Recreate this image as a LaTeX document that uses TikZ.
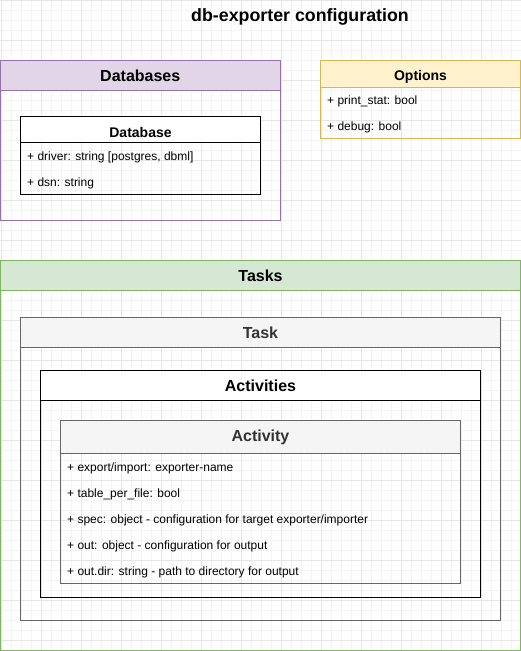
\documentclass[tikz,border=0pt]{standalone}
\usepackage{fontspec}
\setmainfont{Liberation Sans}
\definecolor{mypurple}{HTML}{E1D5E7}
\definecolor{mypurpleline}{HTML}{9673A6}
\definecolor{myyellow}{HTML}{FFF2CC}
\definecolor{myyellowline}{HTML}{D6B656}
\definecolor{mygreen}{HTML}{D5E8D4}
\definecolor{mygreenline}{HTML}{82B366}
\definecolor{mygray}{HTML}{F5F5F5}
\definecolor{mygrayline}{HTML}{666666}
\definecolor{mygraytext}{HTML}{333333}
\definecolor{gridminor}{HTML}{F4F4F4}
\definecolor{gridmajor}{HTML}{E6E6E6}
\tikzset{
    frame/.style={draw, line width=1pt, inner sep=0pt, outer sep=0pt, anchor=north west},
    headbar/.style={frame, font=\bfseries\fontsize{16}{19}\selectfont},
    smallhead/.style={frame, font=\bfseries\fontsize{14}{17}\selectfont},
    rowtext/.style={anchor=west, inner sep=0pt, font=\fontsize{12}{14}\selectfont},
}

\begin{document}
\begin{tikzpicture}[x=1pt, y=-1pt]
        \useasboundingbox (0,0) rectangle (521,651);
        % Background grid
        \foreach \x in {1,11,...,521} \draw[gridminor, line width=1pt] (\x,0) -- (\x,651);
        \foreach \y in {0,10,...,650} \draw[gridminor, line width=1pt] (0,\y) -- (521,\y);
        \foreach \x in {1,41,...,521} \draw[gridmajor, line width=1pt] (\x,0) -- (\x,651);
        \foreach \y in {0,40,...,650} \draw[gridmajor, line width=1pt] (0,\y) -- (521,\y);

        % Title
        \node[font=\bfseries\fontsize{17.8}{21}\selectfont] (title) at (300,17) {db-exporter configuration};

        % Databases
        \node[frame, draw=mypurpleline, minimum width=279.5, minimum height=159.5] (databases) at (0.5,60.5) {};
        \node[headbar, draw=mypurpleline, fill=mypurple, minimum width=279.5, minimum height=30] (databases-head) at (databases.north west) {Databases};

        % Database
        \node[frame, draw=black, minimum width=240, minimum height=78] (database) at (20.5,116.5) {};
        \node[smallhead, draw=black, fill=white, minimum width=240, minimum height=26] (database-head) at (database.north west) {\raisebox{-2.5pt}[\height][\depth]{Database}};
        \node[rowtext] (database-driver) at (27,157) {+ driver: string [postgres, dbml]};
        \node[rowtext] (database-dsn) at (27,183) {+ dsn: string};

        % Options
        \node[frame, draw=myyellowline, minimum width=200, minimum height=77.5] (options) at (320.5,60.5) {};
        \node[smallhead, draw=myyellowline, fill=myyellow, minimum width=200, minimum height=26.5] (options-head) at (options.north west) {\raisebox{-3.5pt}[\height][\depth]{Options}};
        \node[rowtext] (options-stat) at (327,101) {+ print\_stat: bool};
        \node[rowtext] (options-debug) at (327,127) {+ debug: bool};

        % Tasks
        \node[frame, draw=mygreenline, minimum width=520, minimum height=390] (tasks) at (0.5,260.5) {};
        \node[headbar, draw=mygreenline, fill=mygreen, minimum width=520, minimum height=30] (tasks-head) at (tasks.north west) {Tasks};

        % Task
        \node[frame, draw=mygrayline, minimum width=480, minimum height=303] (task) at (20.5,317.5) {};
        \node[headbar, draw=mygrayline, fill=mygray, text=mygraytext, minimum width=480, minimum height=30] (task-head) at (task.north west) {Task};

        % Activities
        \node[frame, draw=black, minimum width=440, minimum height=227] (activities) at (40.5,370.5) {};
        \node[headbar, draw=black, fill=white, minimum width=440, minimum height=30] (activities-head) at (activities.north west) {Activities};

        % Activity
        \node[frame, draw=mygrayline, minimum width=400, minimum height=163] (activity) at (60.5,420.5) {};
        \node[headbar, draw=mygrayline, fill=mygray, text=mygraytext, minimum width=400, minimum height=33] (activity-head) at (activity.north west) {Activity};
        \node[rowtext] (activity-export) at (67,468) {+ export/import: exporter-name};
        \node[rowtext] (activity-table) at (67,494) {+ table\_per\_file: bool};
        \node[rowtext] (activity-spec) at (67,520) {+ spec: object - configuration for target exporter/importer};
        \node[rowtext] (activity-out) at (67,546) {+ out: object - configuration for output};
        \node[rowtext] (activity-dir) at (67,572) {+ out.dir: string - path to directory for output};
    \end{tikzpicture}
\end{document}
